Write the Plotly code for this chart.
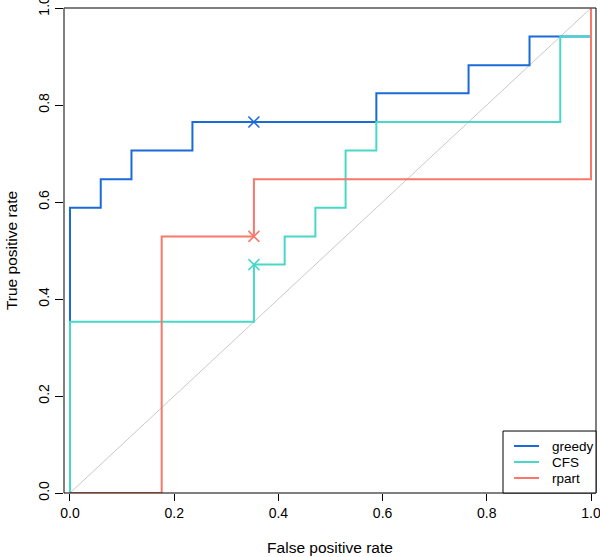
import plotly.graph_objects as go

# ROC curve data (false positive rate, true positive rate)
greedy_fpr = [0.0, 0.0, 0.059, 0.059, 0.118, 0.118, 0.235, 0.235, 0.588, 0.588, 0.765, 0.765, 0.882, 0.882, 1.0, 1.0]
greedy_tpr = [0.0, 0.588, 0.588, 0.647, 0.647, 0.706, 0.706, 0.765, 0.765, 0.824, 0.824, 0.882, 0.882, 0.941, 0.941, 1.0]

cfs_fpr = [0.0, 0.0, 0.353, 0.353, 0.412, 0.412, 0.471, 0.471, 0.529, 0.529, 0.588, 0.588, 0.941, 0.941, 1.0, 1.0]
cfs_tpr = [0.0, 0.353, 0.353, 0.471, 0.471, 0.529, 0.529, 0.588, 0.588, 0.706, 0.706, 0.765, 0.765, 0.941, 0.941, 1.0]

rpart_fpr = [0.0, 0.176, 0.176, 0.353, 0.353, 1.0, 1.0]
rpart_tpr = [0.0, 0.0, 0.529, 0.529, 0.647, 0.647, 1.0]

# chosen operating points (marked with a cross)
greedy_pt = (0.353, 0.765)
cfs_pt = (0.353, 0.471)
rpart_pt = (0.353, 0.529)

diag = [0.0, 1.0]

x_ticks = [0.0, 0.2, 0.4, 0.6, 0.8, 1.0]
y_ticks = [0.0, 0.2, 0.4, 0.6, 0.8, 1.0]
tick_text = ["0.0", "0.2", "0.4", "0.6", "0.8", "1.0"]

names = ["greedy", "CFS", "rpart"]
colors = ["#1a6ad8", "#48d8c8", "#f8786a"]

fig = go.Figure()

fig.add_trace(go.Scatter(x=diag, y=diag, mode="lines",
                         line=dict(color="#c8c8c8", width=1),
                         showlegend=False, hoverinfo="skip"))

series = [(greedy_fpr, greedy_tpr, greedy_pt),
          (cfs_fpr, cfs_tpr, cfs_pt),
          (rpart_fpr, rpart_tpr, rpart_pt)]

for (fx, fy, pt), name, col in zip(series, names, colors):
    fig.add_trace(go.Scatter(x=fx, y=fy, mode="lines", name=name,
                             line=dict(color=col, width=2), showlegend=False))

for (fx, fy, pt), name, col in zip(series, names, colors):
    fig.add_trace(go.Scatter(x=[pt[0]], y=[pt[1]], mode="markers",
                             marker=dict(symbol="x-thin", size=11,
                                         line=dict(color=col, width=1.6)),
                             showlegend=False))

font_family = "Liberation Sans, Arial, Helvetica, sans-serif"

# frame
shapes = [
    dict(type="line", xref="paper", yref="paper", x0=0, x1=0, y0=0, y1=1,
         line=dict(color="#555555", width=1.5)),
    dict(type="line", xref="paper", yref="paper", x0=0, x1=1, y0=1, y1=1,
         line=dict(color="#555555", width=1.5)),
    dict(type="line", xref="paper", yref="paper", x0=1, x1=1, y0=0, y1=1,
         line=dict(color="black", width=1)),
    dict(type="line", xref="paper", yref="paper", x0=0, x1=1, y0=0, y1=0,
         line=dict(color="black", width=1)),
]

# legend box (drawn manually, R-style)
lg_x0, lg_x1, lg_y0, lg_y1 = 0.8252, 1.0, 0.0, 0.1278
shapes.append(dict(type="rect", xref="paper", yref="paper",
                   x0=lg_x0, x1=lg_x1, y0=lg_y0, y1=lg_y1,
                   line=dict(color="black", width=1), fillcolor="white", layer="above"))
annotations = []
row_y = [0.0969, 0.0639, 0.0309]
for name, col, yy in zip(names, colors, row_y):
    shapes.append(dict(type="line", xref="paper", yref="paper",
                       x0=0.8459, x1=0.8929, y0=yy, y1=yy,
                       line=dict(color=col, width=2), layer="above"))
    annotations.append(dict(xref="paper", yref="paper", x=0.9135, y=yy,
                            text=name, showarrow=False, xanchor="left",
                            yanchor="middle", font=dict(size=13.5, color="black")))

fig.update_layout(
    width=600, height=557,
    margin=dict(l=64, r=4, t=8, b=64, autoexpand=False),
    paper_bgcolor="white", plot_bgcolor="white",
    showlegend=False,
    font=dict(family=font_family, color="black", size=14),
    xaxis=dict(range=[-0.0115, 1.0096], tickvals=x_ticks, ticktext=tick_text,
               ticks="outside", ticklen=7, tickwidth=1, tickcolor="black",
               showgrid=False, zeroline=False, showline=False, automargin=False,
               ticklabeloverflow="allow",
               tickfont=dict(size=14),
               title=dict(text="False positive rate", font=dict(size=15.5), standoff=22)),
    yaxis=dict(range=[0, 1], tickvals=y_ticks, ticktext=tick_text,
               ticks="outside", ticklen=8, tickwidth=1, tickcolor="black",
               tickangle=-90, automargin=False, ticklabeloverflow="allow",
               showgrid=False, zeroline=False, showline=False,
               tickfont=dict(size=14),
               title=dict(text="True positive rate", font=dict(size=15.5), standoff=14)),
    shapes=shapes,
    annotations=annotations,
)

fig.write_html("out.html", config={"displayModeBar": False},
               post_script="document.body.style.margin='0px';document.body.style.padding='0px';")
